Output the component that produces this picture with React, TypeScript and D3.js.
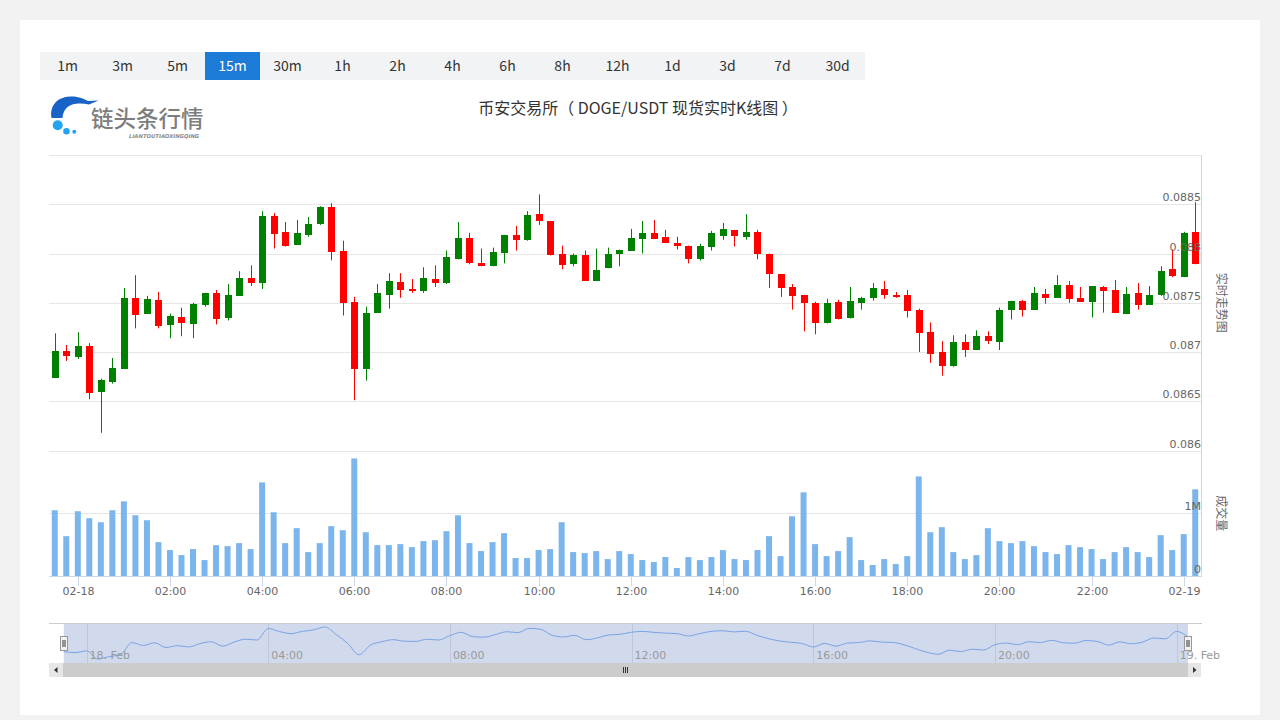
import React from "react";
import * as d3 from "d3";

const intervals = ["1m", "3m", "5m", "15m", "30m", "1h", "2h", "4h", "6h", "8h", "12h", "1d", "3d", "7d", "30d"];
const activeInterval = "15m";
const chartTitle = "币安交易所（ DOGE/USDT 现货实时K线图 ）";
const priceAxisTitle = "实时走势图";
const volumeAxisTitle = "成交量";
const logoText = "链头条行情";
const logoSub = "LIANTOUTIAOXINGQING";

const startTime = Date.UTC(2023, 1, 17, 23, 30);
const stepMs = 15 * 60 * 1000;

const opens = [
  0.08674, 0.08701, 0.08695, 0.08706, 0.08659, 0.0867, 0.08683, 0.08755, 0.08739, 0.08753,
  0.08727, 0.08736, 0.08728, 0.08748, 0.0876, 0.08735, 0.08757, 0.08775, 0.0877, 0.08838,
  0.08822, 0.08809, 0.08819, 0.0883, 0.08847, 0.08803, 0.08751, 0.08683, 0.0874, 0.08758,
  0.08771, 0.08764, 0.08762, 0.08774, 0.0877, 0.08794, 0.08816, 0.0879, 0.08787, 0.08801,
  0.08819, 0.08814, 0.0884, 0.08833, 0.08799, 0.08789, 0.08798, 0.08772, 0.08785, 0.08799,
  0.08803, 0.08815, 0.08821, 0.08817, 0.08811, 0.08808, 0.08794, 0.08807, 0.08818, 0.08824,
  0.08817, 0.08822, 0.088, 0.08779, 0.08766, 0.08758, 0.0875, 0.08729, 0.08751, 0.08735,
  0.0875, 0.08755, 0.08764, 0.08758, 0.08758, 0.08743, 0.0872, 0.087, 0.08686, 0.0871,
  0.08702, 0.08716, 0.0871, 0.08743, 0.08752, 0.08743, 0.08759, 0.08755, 0.08768, 0.08755,
  0.08751, 0.08766, 0.08763, 0.08739, 0.0876, 0.08748, 0.08758, 0.08784, 0.08776, 0.08822,
];
const highs = [
  0.08719, 0.08707, 0.0872, 0.08709, 0.08673, 0.08694, 0.08765, 0.08778, 0.08757, 0.08761,
  0.08739, 0.08745, 0.0875, 0.0876, 0.08763, 0.08769, 0.08782, 0.08788, 0.08843, 0.08841,
  0.08832, 0.08834, 0.08837, 0.08848, 0.08851, 0.08813, 0.08756, 0.08746, 0.08769, 0.0878,
  0.0878, 0.08774, 0.08786, 0.08788, 0.08803, 0.08832, 0.08821, 0.08805, 0.08806, 0.08819,
  0.08828, 0.08843, 0.0886, 0.08833, 0.08808, 0.088, 0.08803, 0.08805, 0.08806, 0.08804,
  0.08825, 0.08833, 0.08834, 0.08824, 0.08817, 0.08808, 0.0881, 0.08823, 0.08831, 0.08824,
  0.0884, 0.08824, 0.088, 0.08779, 0.08769, 0.08758, 0.08751, 0.08754, 0.08753, 0.08766,
  0.08756, 0.0877, 0.08772, 0.08761, 0.08763, 0.08744, 0.0873, 0.08711, 0.08717, 0.08718,
  0.08722, 0.08721, 0.08745, 0.08752, 0.08753, 0.08766, 0.08764, 0.08778, 0.08772, 0.08766,
  0.08767, 0.08767, 0.08773, 0.08766, 0.0877, 0.08767, 0.08787, 0.08804, 0.08822, 0.08852,
];
const lows = [
  0.08674, 0.08691, 0.08693, 0.08652, 0.08618, 0.08668, 0.08683, 0.08724, 0.08739, 0.08724,
  0.08714, 0.08716, 0.08714, 0.08746, 0.08728, 0.08732, 0.08757, 0.08767, 0.08764, 0.08805,
  0.08807, 0.08809, 0.08817, 0.08829, 0.08793, 0.08737, 0.08651, 0.08671, 0.0874, 0.08744,
  0.08755, 0.0876, 0.0876, 0.08766, 0.08769, 0.08794, 0.08789, 0.08787, 0.08787, 0.0879,
  0.08803, 0.08813, 0.08829, 0.08798, 0.08784, 0.08787, 0.08772, 0.08772, 0.08785, 0.08787,
  0.08803, 0.088, 0.08815, 0.08811, 0.08804, 0.0879, 0.08793, 0.08803, 0.08814, 0.08807,
  0.08814, 0.08794, 0.08765, 0.08756, 0.08743, 0.08721, 0.08718, 0.08729, 0.08733, 0.08734,
  0.08743, 0.08752, 0.08754, 0.08755, 0.08735, 0.087, 0.08689, 0.08676, 0.08685, 0.08695,
  0.08702, 0.08708, 0.08702, 0.08733, 0.08736, 0.08743, 0.08749, 0.08755, 0.0875, 0.08751,
  0.08735, 0.0874, 0.0874, 0.08739, 0.08743, 0.08748, 0.08757, 0.08776, 0.08776, 0.08789,
];
const closes = [
  0.08701, 0.08696, 0.08706, 0.08658, 0.08672, 0.08684, 0.08755, 0.08738, 0.08754, 0.08726,
  0.08737, 0.08729, 0.08749, 0.0876, 0.08734, 0.08758, 0.08775, 0.0877, 0.08838, 0.0882,
  0.08808, 0.08821, 0.0883, 0.08847, 0.08802, 0.0875, 0.08683, 0.0874, 0.0876, 0.08772,
  0.08763, 0.08762, 0.08775, 0.0877, 0.08796, 0.08816, 0.0879, 0.08787, 0.08802, 0.08819,
  0.08814, 0.08839, 0.08833, 0.08798, 0.08788, 0.08798, 0.08772, 0.08783, 0.088, 0.08804,
  0.08816, 0.08821, 0.08815, 0.08811, 0.08808, 0.08794, 0.08808, 0.08821, 0.08825, 0.08818,
  0.08822, 0.08799, 0.08779, 0.08765, 0.08757, 0.0875, 0.08729, 0.0875, 0.08734, 0.08752,
  0.08755, 0.08765, 0.08758, 0.08756, 0.08742, 0.08719, 0.08698, 0.08686, 0.0871, 0.08702,
  0.08716, 0.08711, 0.08743, 0.08752, 0.08743, 0.0876, 0.08755, 0.08768, 0.08754, 0.08751,
  0.08767, 0.08762, 0.0874, 0.08759, 0.08748, 0.08758, 0.08782, 0.08777, 0.08821, 0.08789,
];
const volumes = [
  1048000, 635000, 1032000, 921000, 857000, 1048000, 1190000, 968000, 889000, 540000,
  413000, 333000, 429000, 254000, 492000, 476000, 524000, 429000, 1492000, 1016000,
  524000, 762000, 381000, 524000, 794000, 730000, 1873000, 698000, 492000, 492000,
  508000, 460000, 556000, 571000, 714000, 968000, 524000, 397000, 540000, 683000,
  286000, 286000, 413000, 429000, 857000, 381000, 365000, 397000, 270000, 397000,
  349000, 254000, 222000, 302000, 127000, 302000, 254000, 302000, 413000, 270000,
  254000, 413000, 635000, 317000, 952000, 1333000, 508000, 317000, 397000, 619000,
  254000, 175000, 270000, 190000, 317000, 1587000, 698000, 778000, 381000, 270000,
  333000, 762000, 556000, 524000, 556000, 476000, 381000, 349000, 492000, 460000,
  429000, 270000, 381000, 460000, 381000, 302000, 651000, 413000, 667000, 1381000,
];
const priceDomain = [0.086, 0.089];
const volumeDomain = [0, 2000000];

const UP = "#008000";
const DOWN = "#ff0000";
const AXIS_FONT = "'DejaVu Sans', Verdana, sans-serif";
const CJK_FONT = "'Noto Sans CJK SC', 'Noto Sans', sans-serif";

export default function App() {
  const n = closes.length;
  const times = closes.map((_, i) => new Date(startTime + i * stepMs));

  const left = 49;
  const right = 1201;
  const priceTop = 155;
  const priceBottom = 450.5;
  const volTop = 450.5;
  const volBottom = 576;

  const x = d3
    .scaleUtc()
    .domain([new Date(startTime - 0.5 * stepMs), new Date(startTime + (n - 0.5) * stepMs)])
    .range([left, right]);
  const yP = d3.scaleLinear().domain(priceDomain).range([priceBottom, priceTop]);
  const yV = d3.scaleLinear().domain(volumeDomain).range([volBottom, volTop]);

  const priceTicks = yP.ticks(6);
  const volTicks = yV.ticks(2);
  const xTicks = x.ticks(d3.utcHour.every(2) as any);
  const fmtDay = d3.utcFormat("%m-%d");
  const fmtHour = d3.utcFormat("%H:%M");
  const fmtX = (d: Date) => (d.getUTCHours() === 0 && d.getUTCMinutes() === 0 ? fmtDay(d) : fmtHour(d));

  // navigator
  const navTop = 623;
  const navBottom = 663;
  const navX = d3.scaleUtc().domain([times[0], times[n - 1]]).range([63.8, 1188]);
  const ext = d3.extent(closes) as [number, number];
  const navY = d3.scaleLinear().domain(ext).range([659, 627]);
  const navLine = d3
    .line<number>()
    .x((_, i) => navX(times[i]))
    .y((d) => navY(d))
    .curve(d3.curveMonotoneX)(closes) as string;
  const navTicks = navX.ticks(d3.utcHour.every(4) as any);
  const fmtNavDay = d3.utcFormat("%d. %b");
  const fmtNav = (d: Date) => (d.getUTCHours() === 0 ? fmtNavDay(d) : fmtHour(d));

  const bodyW = 7;
  const volW = 6;

  return (
    <div style={{ position: "absolute", left: 0, top: 0, width: 1280, height: 720, background: "#f2f2f2" }}>
      <svg width={1280} height={720} style={{ display: "block" }}>
        <rect x={20} y={20} width={1240} height={695} fill="#ffffff" />

        {/* interval buttons */}
        <rect x={40} y={52} width={825} height={28} fill="#f2f3f5" />
        {intervals.map((t, i) => (
          <g key={t}>
            {t === activeInterval && <rect x={40 + i * 55} y={52} width={55} height={28} fill="#1c7bd6" />}
            <text
              x={40 + i * 55 + 27.5}
              y={71}
              textAnchor="middle"
              fontFamily={CJK_FONT}
              fontSize={14}
              fill={t === activeInterval ? "#ffffff" : "#333333"}
            >
              {t}
            </text>
          </g>
        ))}

        {/* logo */}
        <path
          d="M 51.5 118 C 49.5 106, 57 97, 70 96.5 C 78 96, 84 99, 88 101 L 98.5 100.5 L 89 104.5 C 81 102.5, 71 103, 66.5 108 C 63.5 111.5, 62.5 115, 62.5 118 Z"
          fill="#1a63c6"
        />
        <circle cx={57.7} cy={125.3} r={5} fill="#23a4f0" />
        <circle cx={66.5} cy={131.3} r={3.3} fill="#23a4f0" />
        <circle cx={74.3} cy={131.7} r={2} fill="#23a4f0" />
        <text x={91} y={126.5} fontFamily={CJK_FONT} fontSize={22.5} fill="#7d7d7d" fontWeight={500}>
          {logoText}
        </text>
        <text x={129} y={137.5} fontFamily={AXIS_FONT} fontSize={5.3} fontStyle="italic" fontWeight="bold" fill="#8a8a8a">
          {logoSub}
        </text>

        {/* title */}
        <text x={638} y={114} textAnchor="middle" fontFamily={CJK_FONT} fontSize={16} fill="#333333">
          {chartTitle}
        </text>

        {/* price gridlines */}
        {priceTicks.map((t) => (
          <line key={"pg" + t} x1={left} x2={right} y1={Math.round(yP(t)) + 0.5} y2={Math.round(yP(t)) + 0.5} stroke="#e6e6e6" />
        ))}
        {volTicks.map((t) => (
          <line key={"vg" + t} x1={left} x2={right} y1={Math.round(yV(t)) + 0.5} y2={Math.round(yV(t)) + 0.5} stroke="#e6e6e6" />
        ))}

        {/* volume bars */}
        {volumes.map((v, i) => {
          const cx = x(times[i]);
          return (
            <rect
              key={"v" + i}
              x={cx - volW / 2}
              y={yV(v)}
              width={volW}
              height={volBottom - yV(v)}
              fill="#7cb5ec"
            />
          );
        })}

        {/* candles */}
        {closes.map((c, i) => {
          const o = opens[i];
          const cx = Math.round(x(times[i]));
          const col = c >= o ? UP : DOWN;
          const yTop = Math.round(yP(Math.max(o, c)));
          const yBot = Math.round(yP(Math.min(o, c)));
          return (
            <g key={"c" + i}>
              <line x1={cx + 0.5} x2={cx + 0.5} y1={yP(highs[i])} y2={yP(lows[i])} stroke={col} strokeWidth={1} />
              <rect x={cx - 3} y={yTop} width={bodyW} height={Math.max(1, yBot - yTop)} fill={col} />
            </g>
          );
        })}

        {/* price labels */}
        {priceTicks.slice(0, -1).map((t) => (
          <text key={"pl" + t} x={1201} y={yP(t) - 3} textAnchor="end" fontFamily={AXIS_FONT} fontSize={11} fill="#666666">
            {String(+t.toFixed(5))}
          </text>
        ))}
        {volTicks.slice(0, -1).map((t) => (
          <text key={"vl" + t} x={1201} y={yV(t) - 3} textAnchor="end" fontFamily={AXIS_FONT} fontSize={11} fill="#666666">
            {t === 0 ? "0" : t / 1e6 + "M"}
          </text>
        ))}

        {/* axes */}
        <line x1={1201.5} x2={1201.5} y1={priceTop} y2={volBottom + 0.5} stroke="#ccd6eb" />
        <line x1={left} x2={right + 1} y1={volBottom + 0.5} y2={volBottom + 0.5} stroke="#ccd6eb" />
        {xTicks.map((t) => {
          const px = Math.round(x(t)) + 0.5;
          return (
            <g key={"xt" + +t}>
              <line x1={px} x2={px} y1={volBottom} y2={volBottom + 10} stroke="#ccd6eb" />
              <text x={px} y={595} textAnchor="middle" fontFamily={AXIS_FONT} fontSize={11} fill="#666666">
                {fmtX(t)}
              </text>
            </g>
          );
        })}

        <text
          transform={`translate(1217, ${(priceTop + priceBottom) / 2}) rotate(90)`}
          textAnchor="middle"
          fontFamily={CJK_FONT}
          fontSize={12}
          fill="#666666"
        >
          {priceAxisTitle}
        </text>
        <text
          transform={`translate(1217, ${(volTop + volBottom) / 2}) rotate(90)`}
          textAnchor="middle"
          fontFamily={CJK_FONT}
          fontSize={12}
          fill="#666666"
        >
          {volumeAxisTitle}
        </text>

        {/* navigator */}
        {navTicks.map((t) => (
          <line key={"ng" + +t} x1={Math.round(navX(t)) + 0.5} x2={Math.round(navX(t)) + 0.5} y1={navTop} y2={navBottom} stroke="#e6e6e6" />
        ))}
        <rect x={63.8} y={navTop} width={1188 - 63.8} height={navBottom - navTop} fill="rgba(102,133,194,0.3)" />
        <path d={navLine} fill="none" stroke="#7aa2e4" strokeWidth={1} />
        <line x1={left} x2={right + 1} y1={navTop + 0.5} y2={navTop + 0.5} stroke="#cccccc" />
        {navTicks.map((t) => (
          <text key={"nl" + +t} x={navX(t) + 3} y={659} fontFamily={AXIS_FONT} fontSize={11} fill="#999999">
            {fmtNav(t)}
          </text>
        ))}
        {[63.8, 1188].map((hx, i) => (
          <g key={"h" + i}>
            <rect x={Math.round(hx) - 3.5} y={636.5} width={7} height={14} fill="#f2f2f2" stroke="#999999" />
            <line x1={Math.round(hx) - 1} x2={Math.round(hx) - 1} y1={640} y2={647} stroke="#333333" />
            <line x1={Math.round(hx) + 1} x2={Math.round(hx) + 1} y1={640} y2={647} stroke="#333333" />
          </g>
        ))}

        {/* scrollbar */}
        <rect x={left} y={663} width={right - left} height={14} fill="#f2f2f2" />
        <rect x={63} y={663} width={1188 - 63} height={14} fill="#cccccc" />
        {[-2, 0, 2].map((dx) => (
          <line key={"g" + dx} x1={625.5 + dx} x2={625.5 + dx} y1={667} y2={673} stroke="#333333" />
        ))}
        <rect x={left} y={663} width={14} height={14} fill="#e6e6e6" />
        <rect x={1188} y={663} width={13} height={14} fill="#e6e6e6" />
        <path d="M 57.5 667 L 54 670 L 57.5 673 Z" fill="#333333" />
        <path d="M 1193 667 L 1196.5 670 L 1193 673 Z" fill="#333333" />
      </svg>
    </div>
  );
}
